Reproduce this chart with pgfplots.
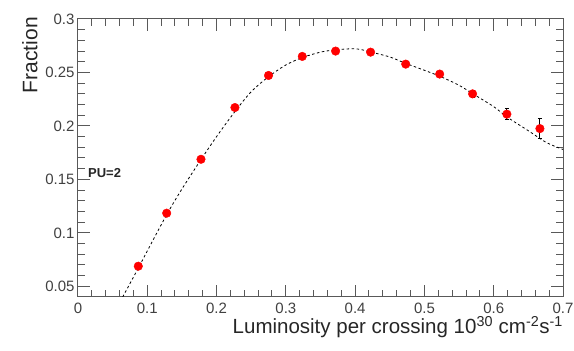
\documentclass[border=0pt]{standalone}
\usepackage{fontspec}
\setmainfont{Liberation Sans}
\usepackage{pgfplots}
\pgfplotsset{compat=1.18}
\begin{document}
\begin{tikzpicture}
\begin{axis}[
  at={(0pt,0pt)}, anchor=south west,
  scale only axis, width=485pt, height=278pt,
  xmin=0, xmax=0.7, ymin=0.04, ymax=0.3,
  xtick distance=0.1, ytick distance=0.05,
  minor x tick num=4, minor y tick num=4,
  scaled x ticks=false, scaled y ticks=false,
  tick align=inside, tick pos=both,
  major tick length=12pt, minor tick length=7pt,
  tick style={color=black!65, line width=1pt},
  axis line style={color=black!65, line width=1pt},
  tick label style={font=\fontsize{15}{15}\selectfont, text=black!75},
  /pgf/number format/assume math mode=true,
  /pgf/number format/fixed, /pgf/number format/precision=2,
  xticklabel style={yshift=-2pt},
  xlabel={Luminosity per crossing 10\textsuperscript{30} cm\textsuperscript{-2}s\textsuperscript{-1}},
  xlabel style={at={(axis description cs:1,-0.108)}, anchor=east, inner sep=0pt, font=\fontsize{20.5}{20.5}\selectfont, text=black!85},
  ylabel={Fraction},
  ylabel style={at={(axis description cs:-0.099,1.007)}, anchor=east, inner sep=0pt, font=\fontsize{21}{21}\selectfont, text=black!85},
  clip=true,
]
\addplot[black, line width=0.8pt, dash pattern=on 2.5pt off 2.5pt, smooth, tension=0.5] coordinates {
 (0.0645,0.040) (0.087,0.067) (0.1,0.083) (0.128,0.117) (0.15,0.141) (0.177,0.168)
 (0.2,0.190) (0.226,0.213) (0.25,0.232) (0.275,0.246) (0.3,0.257) (0.324,0.264)
 (0.35,0.269) (0.372,0.2712) (0.397,0.2722) (0.41,0.2712) (0.422,0.2692) (0.45,0.2645)
 (0.473,0.2585) (0.498,0.2525) (0.522,0.2465) (0.55,0.238) (0.57,0.230) (0.6,0.218)
 (0.62,0.208) (0.65,0.1955) (0.676,0.1845) (0.7,0.178)
};
\addplot[only marks, mark=*, mark size=4.3pt, red, mark options={fill=red, draw=red},
  error bars/.cd, y dir=both, y explicit,
  error bar style={black, line width=0.9pt},
  error mark options={black, mark size=2pt, line width=0.9pt, rotate=90}]
  coordinates {
 (0.087,0.0688) +- (0,0.0015)
 (0.128,0.1184) +- (0,0.0015)
 (0.1775,0.1688) +- (0,0.0015)
 (0.2265,0.2172) +- (0,0.0018)
 (0.275,0.2472) +- (0,0.002)
 (0.3237,0.2650) +- (0,0.002)
 (0.3718,0.2700) +- (0,0.002)
 (0.4223,0.2690) +- (0,0.002)
 (0.473,0.2578) +- (0,0.0022)
 (0.522,0.2485) +- (0,0.0025)
 (0.5695,0.2300) +- (0,0.003)
 (0.619,0.2110) +- (0,0.005)
 (0.6667,0.1975) +- (0,0.0092)
};
\node[anchor=west, inner sep=0pt, font=\fontsize{13}{13}\selectfont\bfseries, text=black!85] at (axis cs:0.0144,0.1557) {PU=2};
\end{axis}
\pgfresetboundingbox
\useasboundingbox (-78pt,-54pt) rectangle (496pt,297pt);
\end{tikzpicture}
\end{document}
